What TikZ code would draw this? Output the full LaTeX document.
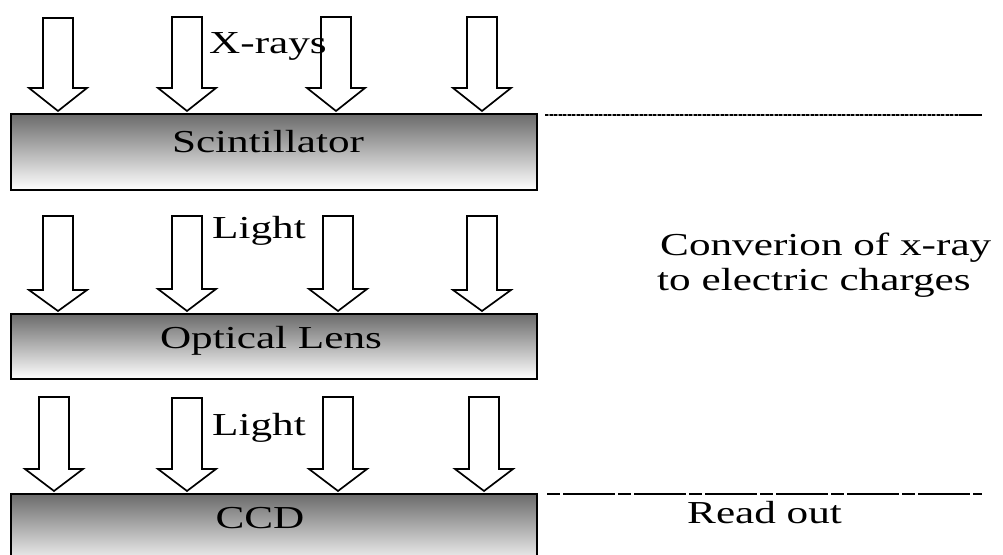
\documentclass[tikz,border=0pt]{standalone}
\usepackage{fontspec}
\setmainfont[FakeStretch=1.35]{Liberation Serif}
\begin{document}
\begin{tikzpicture}[x=1pt,y=-1pt,
  box/.style={draw=black, line width=2.2pt, top color=black!58, middle color=black!24, bottom color=white,
    minimum width=526pt, anchor=north west, inner sep=0pt},
  barrow/.style={draw=black, line width=1.7pt, fill=white, line join=miter},
  lbl/.style={inner sep=0pt, font=\fontsize{32}{36}\selectfont, text=black},
  sep1under/.style={line width=2.4pt, draw=black!45},
  sep1/.style={line width=2.4pt, dash pattern=on 3pt off 1.5pt},
  sep2/.style={line width=2pt, dash pattern=on 13pt off 3pt on 52pt off 3pt}]
\newcommand\blockarr[4]{\draw[barrow] (#1-15,#2) -- (#1+15,#2) -- (#1+15,#3) -- (#1+29,#3) -- (#1,#4) -- (#1-29,#3) -- (#1-15,#3) -- cycle;}
\useasboundingbox (0,0) rectangle (1003,554);
\clip (0,0) rectangle (1003,554);
\fill[white] (0,0) rectangle (1003,554);
% boxes
\node[box, minimum height=76pt] (scint) at (10,113) {};
\node[box, minimum height=65pt] (lens) at (10,313) {};
\node[box, minimum height=74pt] (ccd) at (10,493) {};
% arrows row 1
\blockarr{58}{18}{88}{111}
\blockarr{187}{17}{88}{111}
\blockarr{336}{17}{88}{111}
\blockarr{482}{17}{88}{111}
% arrows row 2
\blockarr{58}{216}{290}{311}
\blockarr{187}{216}{289}{311}
\blockarr{338}{216}{289}{311}
\blockarr{482}{216}{290}{311}
% arrows row 3
\blockarr{54}{397}{469}{491}
\blockarr{187}{398}{469}{491}
\blockarr{338}{397}{469}{491}
\blockarr{484}{397}{469}{491}
% labels
\node[lbl, anchor=base west] (xr) at (209,53) {X-rays};
\node[lbl, anchor=base] (scintl) at (268,152) {Scintillator};
\node[lbl, anchor=base west] (l1) at (212,238) {Light};
\node[lbl, anchor=base] (lensl) at (271,348) {Optical Lens};
\node[lbl, anchor=base west] (l2) at (212,435) {Light};
\node[lbl, anchor=base] (ccdl) at (260,528) {CCD};
\node[lbl, anchor=base west] (conv1) at (660,255) {Converion of x-ray};
\node[lbl, anchor=base west] (conv2) at (657,290) {to electric charges};
\node[lbl, anchor=base west] (rd) at (687,523) {Read out};
% separator lines
\coordinate (s1a) at (545,115);
\coordinate (s1b) at (962,115);
\coordinate (s1c) at (982,115);
\coordinate (s2a) at (547,494);
\coordinate (s2b) at (982,494);
\draw[sep1under] (s1a) -- (s1b);
\draw[sep1] (s1a) -- (s1b);
\draw[line width=2.4pt] (s1b) -- (s1c);
\draw[sep2] (s2a) -- (s2b);
\end{tikzpicture}
\end{document}
